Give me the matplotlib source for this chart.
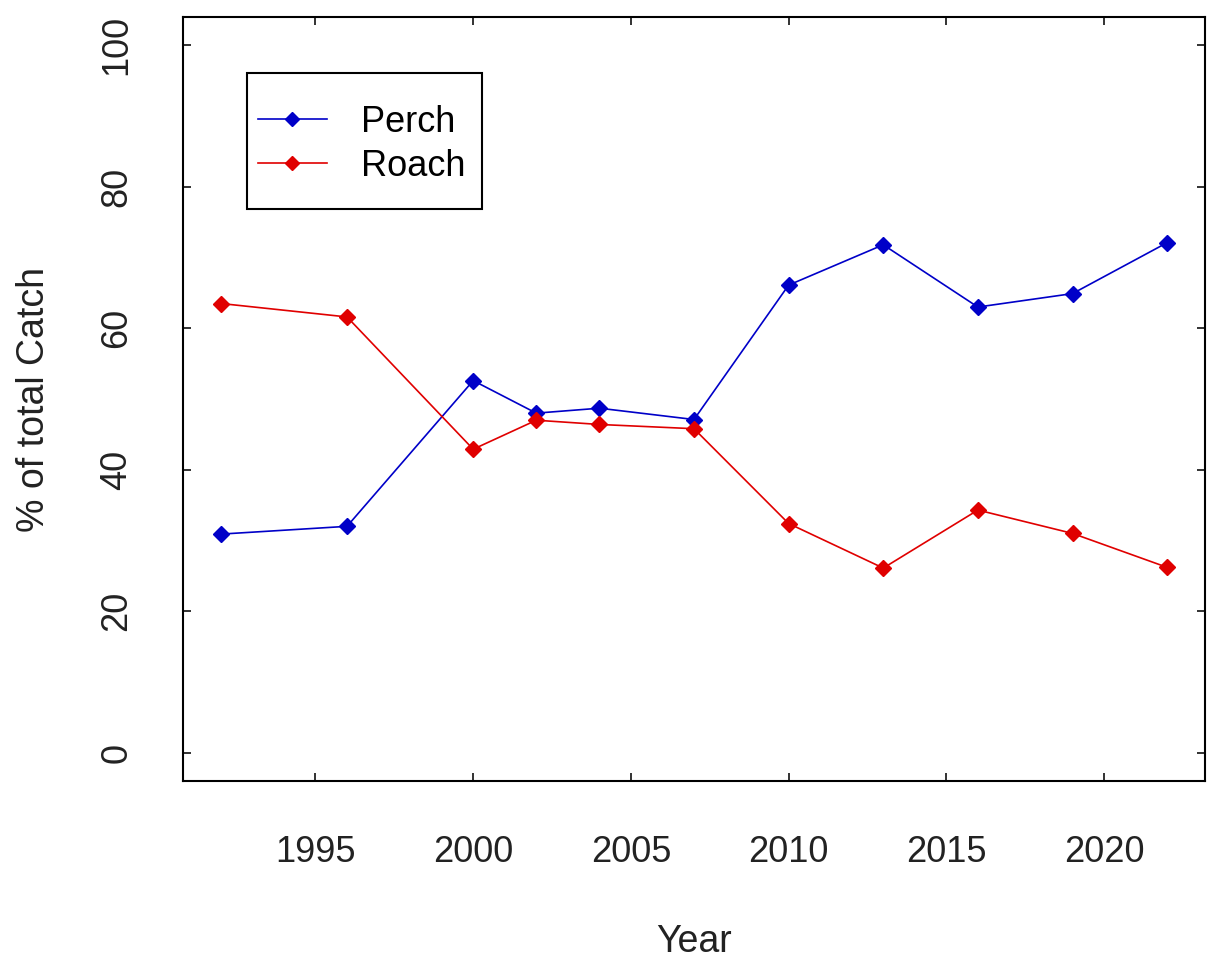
import matplotlib
matplotlib.use("Agg")
import matplotlib.pyplot as plt
from matplotlib.patches import Rectangle

# catch composition by survey year
years = [1992, 1996, 2000, 2002, 2004, 2007, 2010, 2013, 2016, 2019, 2022]
perch = [30.9, 32.0, 52.6, 48.0, 48.7, 47.1, 66.1, 71.8, 63.0, 64.9, 72.1]
roach = [63.5, 61.6, 42.9, 47.0, 46.4, 45.8, 32.4, 26.1, 34.3, 31.0, 26.2]

x_ticks = [1995, 2000, 2005, 2010, 2015, 2020]
y_ticks = [0, 20, 40, 60, 80, 100]

plt.rcParams['font.family'] = ['Liberation Sans', 'DejaVu Sans']

W, H = 1207, 958
fig = plt.figure(figsize=(W / 100, H / 100), dpi=100)
ax = fig.add_axes([183 / W, (H - 781) / H, (1205 - 183) / W, (781 - 17) / H])

blue = '#0000c8'
red = '#e00000'
ax.plot(years, perch, color=blue, lw=1.2, marker='D', ms=8, label='Perch')
ax.plot(years, roach, color=red, lw=1.2, marker='D', ms=8, label='Roach')

ax.set_xlim(1990.8, 2023.2)
ax.set_ylim(-4, 104)
ax.set_xticks(x_ticks)
ax.set_yticks(y_ticks)

for s in ax.spines.values():
    s.set_linewidth(1.5)
ax.tick_params(direction='in', length=6, width=1.3, top=True, right=True,
               labelsize=26, colors='#222222')
ax.tick_params(axis='x', pad=39)
ax.tick_params(axis='y', pad=35)
for lab in ax.get_yticklabels():
    lab.set_rotation(90)
    lab.set_va('center')

ax.set_xlabel('Year', fontsize=27, labelpad=39, color='#222222')
ax.set_ylabel('% of total Catch', fontsize=27, labelpad=34, color='#222222')

# legend box drawn by hand so the padding matches
ax.add_patch(Rectangle((0.0626, 0.7487), 0.230, 0.178, transform=ax.transAxes,
                       fill=False, edgecolor='black', lw=1.5, zorder=5))
ax.legend(loc='upper left', bbox_to_anchor=(0.0734, 0.885), fontsize=26,
          frameon=False, handlelength=1.9, handletextpad=0.95, borderpad=0,
          labelspacing=0.24, borderaxespad=0, markerscale=0.85)

fig.savefig('out.png', dpi=100)
